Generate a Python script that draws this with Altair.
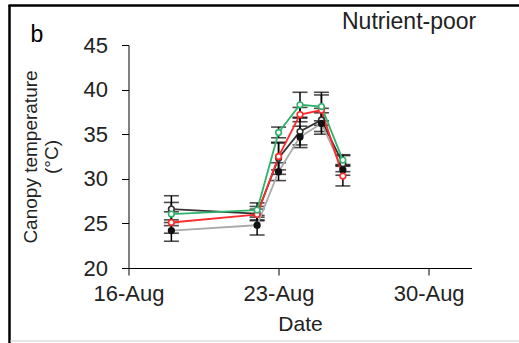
import altair as alt
import pandas as pd

dates = ["2019-08-18T00:00:00", "2019-08-22T00:00:00", "2019-08-23T00:00:00",
         "2019-08-24T00:00:00", "2019-08-25T00:00:00", "2019-08-26T00:00:00"]

series_names = ["open_black", "filled_black", "red", "green"]
means = {
    "open_black":   [26.6, 26.1, 32.3, 35.3, 36.6, 31.7],
    "filled_black": [24.2, 24.8, 30.8, 34.7, 36.2, 31.0],
    "red":          [25.1, 26.0, 32.5, 37.2, 37.7, 30.3],
    "green":        [26.05, 26.5, 35.2, 38.3, 38.1, 32.1],
}
errors = {
    "open_black":   [1.5, 0.8, 1.8, 1.5, 1.3, 0.9],
    "filled_black": [1.2, 1.1, 1.0, 1.2, 1.2, 0.6],
    "red":          [1.2, 0.6, 1.5, 0.8, 1.7, 1.1],
    "green":        [1.3, 0.8, 0.6, 1.4, 1.6, 0.6],
}
line_colors = {"open_black": "#333333", "filled_black": "#aaaaaa",
               "red": "#ff2a2a", "green": "#2fb36c"}
point_strokes = {"open_black": "#333333", "filled_black": "#111111",
                 "red": "#ff2a2a", "green": "#2fb36c"}
point_fills = {"open_black": "#ffffff", "filled_black": "#111111",
               "red": "#ffffff", "green": "#ffffff"}

rows = []
for s in series_names:
    for d, m, e in zip(dates, means[s], errors[s]):
        rows.append({"date": d, "series": s, "mean": m, "lo": m - e, "hi": m + e})
df = pd.DataFrame(rows)

FONT = "Liberation Sans"

x_enc = alt.X("date:T",
              scale=alt.Scale(domain=[alt.DateTime(year=2019, month=8, date=16),
                                      alt.DateTime(year=2019, month=9, date=1)]),
              axis=alt.Axis(values=[alt.DateTime(year=2019, month=8, date=16),
                                    alt.DateTime(year=2019, month=8, date=23),
                                    alt.DateTime(year=2019, month=8, date=30)],
                            format="%d-%b", title="Date", grid=False,
                            tickSize=7, labelPadding=8, titlePadding=9,
                            labelFontSize=22, titleFontSize=21,
                            domainColor="#000", tickColor="#000",
                            labelColor="#222", titleColor="#222",
                            titleFontWeight="normal", labelFont=FONT, titleFont=FONT,
                            labelFlush=False))
y_scale = alt.Scale(domain=[20, 45], nice=False, zero=False)
y_enc = alt.Y("mean:Q", scale=y_scale,
              axis=alt.Axis(values=[20, 25, 30, 35, 40, 45], grid=False,
                            title=["Canopy temperature", "(°C)"],
                            tickSize=7, labelPadding=14, titlePadding=22,
                            labelFontSize=22, titleFontSize=19,
                            domainColor="#000", tickColor="#000",
                            labelColor="#222", titleColor="#222",
                            titleFontWeight="normal", labelFont=FONT, titleFont=FONT))

color_scale = alt.Scale(domain=series_names, range=[line_colors[s] for s in series_names])
stroke_scale = alt.Scale(domain=series_names, range=[point_strokes[s] for s in series_names])
fill_scale = alt.Scale(domain=series_names, range=[point_fills[s] for s in series_names])

base = alt.Chart(df)

err_rule = base.mark_rule(color="#000", strokeWidth=1.5).encode(
    x=x_enc, y=alt.Y("lo:Q", scale=y_scale), y2="hi:Q")
cap_lo = base.mark_tick(color="#000", orient="horizontal", size=15, thickness=1.6).encode(
    x=x_enc, y=alt.Y("lo:Q", scale=y_scale))
cap_hi = base.mark_tick(color="#000", orient="horizontal", size=15, thickness=1.6).encode(
    x=x_enc, y=alt.Y("hi:Q", scale=y_scale))

lines = base.mark_line(strokeWidth=1.8).encode(
    x=x_enc, y=y_enc,
    color=alt.Color("series:N", scale=color_scale, legend=None),
    detail="series:N")

points = base.mark_point(shape="circle", size=32, strokeWidth=1.6, opacity=1,
                         filled=False).encode(
    x=x_enc, y=y_enc,
    stroke=alt.Stroke("series:N", scale=stroke_scale, legend=None),
    fill=alt.Fill("series:N", scale=fill_scale, legend=None))

# panel letter and label
lab_df = pd.DataFrame({"t": ["b"]})
letter = alt.Chart(lab_df).mark_text(font=FONT, fontSize=23, align="center",
                                     baseline="alphabetic", color="#000").encode(
    text="t:N", x=alt.value(-91.5), y=alt.value(-3))
np_df = pd.DataFrame({"t": ["Nutrient-poor"]})
np_text = alt.Chart(np_df).mark_text(font=FONT, fontSize=23, align="left",
                                     baseline="alphabetic", color="#222").encode(
    text="t:N", x=alt.value(213.5), y=alt.value(-16))

# image frame
frame_df = pd.DataFrame({"k": [0]})
left_line = alt.Chart(frame_df).mark_rule(color="#000", strokeWidth=2.5).encode(
    x=alt.value(-119), y=alt.value(-40), y2=alt.value(300))
top_line = alt.Chart(frame_df).mark_rule(color="#000", strokeWidth=2.5).encode(
    x=alt.value(-120), x2=alt.value(392), y=alt.value(-39.5))
bottom_line = alt.Chart(frame_df).mark_rule(color="#dddddd", strokeWidth=1.5).encode(
    x=alt.value(-118), x2=alt.value(392), y=alt.value(296))

chart = alt.layer(err_rule, cap_lo, cap_hi, lines, points, letter, np_text,
                  left_line, top_line, bottom_line).properties(
    width=343, height=223,
    autosize=alt.AutoSizeParams(type="none"),
    padding={"left": 128.5, "top": 45, "right": 47.5, "bottom": 75},
    background="#ffffff"
).configure_view(stroke=None)

chart.save("out.html", embed_options={"renderer": "svg", "actions": False})
